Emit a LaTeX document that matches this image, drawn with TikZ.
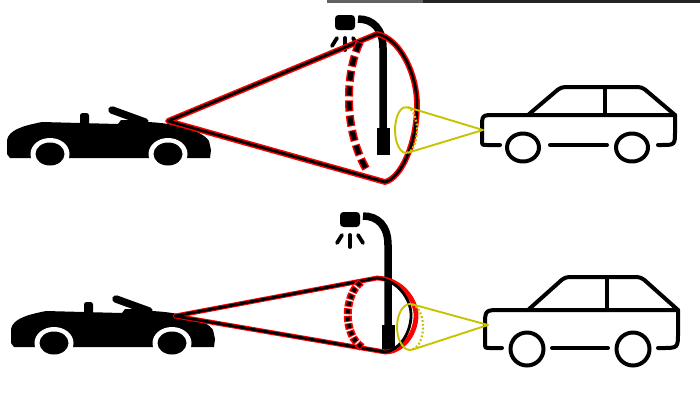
\documentclass[tikz,border=0pt]{standalone}
\begin{document}
\begin{tikzpicture}[x=1pt,y=-1pt,line join=round,
  redrim/.style={draw=red,line width=5.8},
  blackrim/.style={draw=black,line width=2.8},
  carline/.style={draw=black,line width=4,line cap=round,line join=round},
  beam/.style={draw=beamyellow,line width=1.9},
  ray/.style={draw=black,line width=3.8,line cap=round},
  convertible/.pic={
    \fill[black] (10,158) -- (7,154) -- (7,140) .. controls (9,130) and (22,126) .. (42,122)
      -- (118,124) -- (121,120) -- (129,120) -- (147,122)
      .. controls (176,123) and (203,131) .. (209,141) -- (211,150) -- (210,158) -- cycle;
    \fill[black,rounded corners=2.5] (80,113) rectangle (89,125);
    \draw[black,line width=7.5,line cap=round] (112,110) -- (145,122);
    \fill[white] (50,154) ellipse [x radius=19.5,y radius=16];
    \fill[white] (168,154) ellipse [x radius=19.5,y radius=16];
    \fill[black] (50,154) ellipse [x radius=14.5,y radius=11.5];
    \fill[black] (168,154) ellipse [x radius=14.5,y radius=11.5];
  },
  streetlamp/.pic={
    \fill[black,rounded corners=3.5] (340,212) rectangle (360,227);
    \draw[black,line width=7.5] (363,216) .. controls (378,216) and (388,226) .. (388,245) -- (388,330);
    \fill[black] (382,325) rectangle (395,352);
    \draw[ray] (342,235) -- (337,243);
    \draw[ray] (350,235) -- (350,247);
    \draw[ray] (358,235) -- (363,243);
  }
]
\definecolor{beamyellow}{RGB}{196,196,0}
\useasboundingbox (0,0) rectangle (700,405);
\fill[white] (0,0) rectangle (700,405);
% strip along the top edge
\fill[black!62] (327,0) rectangle (423,3);
\fill[black!86] (423,0) rectangle (700,3);

% ---------- cars ----------
\pic at (0,0) {convertible};
\pic at (4,189) {convertible};

% upper hatchback
\draw[carline] (500,145) -- (487,145) .. controls (482,145) .. (482,140) -- (482,128)
  .. controls (482,115) .. (495,115) -- (675,115) -- (675,131) .. controls (675,145) .. (661,145) -- (658,145);
\draw[carline,rounded corners=4] (528,115) -- (561,87) -- (642,87) -- (675,115);
\draw[carline] (605,87) -- (605,115);
\draw[carline] (550,145) -- (607,145);
\draw[carline] (523,147.5) ellipse [x radius=16,y radius=14];
\draw[carline] (632,147.5) ellipse [x radius=16,y radius=14];

% lower hatchback
\draw[carline] (502,348) -- (490,348) .. controls (485,348) .. (485,343) -- (485,326)
  .. controls (485,310) .. (501,310) -- (678,310) -- (678,332) .. controls (678,348) .. (662,348) -- (658,348);
\draw[carline,rounded corners=4] (528,310) -- (565,277) -- (641,277) -- (678,310);
\draw[carline] (607,277) -- (607,310);
\draw[carline] (552,348) -- (608,348);
\draw[carline] (527,349) ellipse [x radius=16.5,y radius=16.5];
\draw[carline] (633,349) ellipse [x radius=16.5,y radius=16.5];

% ---------- street lamps ----------
\pic at (-5,-197) {streetlamp};
\pic at (0,0) {streetlamp};

% ---------- upper headlight cone ----------
\coordinate (a1) at (168,121);
\coordinate (t1) at (377,34);
\coordinate (m1) at (417,108);
\coordinate (b1) at (385,182);
\draw[redrim] (a1) -- (t1) .. controls (400,38) and (418,75) .. (m1)
  .. controls (416,145) and (401,178) .. (b1) -- cycle;
\draw[blackrim] (a1) -- (t1) .. controls (400,38) and (418,75) .. (m1)
  .. controls (416,145) and (401,178) .. (b1) -- cycle;
\coordinate (d1) at (360,42);
\coordinate (e1) at (368,172);
\draw[red,line width=8,dash pattern=on 11 off 4] (d1) .. controls (346,70) and (342,130) .. (e1);
\draw[black,line width=5,dash pattern=on 9 off 6,dash phase=14] (d1) .. controls (346,70) and (342,130) .. (e1);

% ---------- lower headlight cone ----------
\coordinate (a2) at (175,316);
\coordinate (t2) at (377,278);
\coordinate (b2) at (385,352);
\draw[redrim,line width=4.8] (a2) -- (t2) .. controls (401,279) and (417,300) .. (416,317)
  .. controls (415,336) and (401,352) .. (b2) -- cycle;
\draw[blackrim] (a2) -- (t2) .. controls (398,280) and (412,300) .. (411,317)
  .. controls (410,335) and (398,351) .. (b2) -- cycle;
\coordinate (d2) at (361,282);
\coordinate (e2) at (363,348);
\draw[red,line width=8,dash pattern=on 6 off 1.5] (d2) .. controls (344,295) and (342,335) .. (e2);
\draw[black,line width=4.5,dash pattern=on 4 off 3.5,dash phase=6.5] (d2) .. controls (344,295) and (342,335) .. (e2);

% ---------- yellow cones from the parked cars ----------
\coordinate (y1) at (483,130);
\coordinate (p1) at (407.6,107.2);
\coordinate (q1) at (407.6,152.8);
\draw[beam] (p1) -- (y1) -- (q1);
\draw[beam] (p1) arc [start angle=-81.8,end angle=-278.2,x radius=11,y radius=23];
\draw[beam,dotted,line width=2.2] (p1) arc [start angle=-81.8,end angle=81.8,x radius=11,y radius=23];

\coordinate (y2) at (488,325);
\coordinate (p2) at (412.2,304.3);
\coordinate (q2) at (412.2,349.7);
\draw[beam] (p2) -- (y2) -- (q2);
\draw[beam] (p2) arc [start angle=-80.4,end angle=-279.6,x radius=13,y radius=23];
\draw[beam,dotted,line width=2.2] (p2) arc [start angle=-80.4,end angle=80.4,x radius=13,y radius=23];
\end{tikzpicture}
\end{document}
